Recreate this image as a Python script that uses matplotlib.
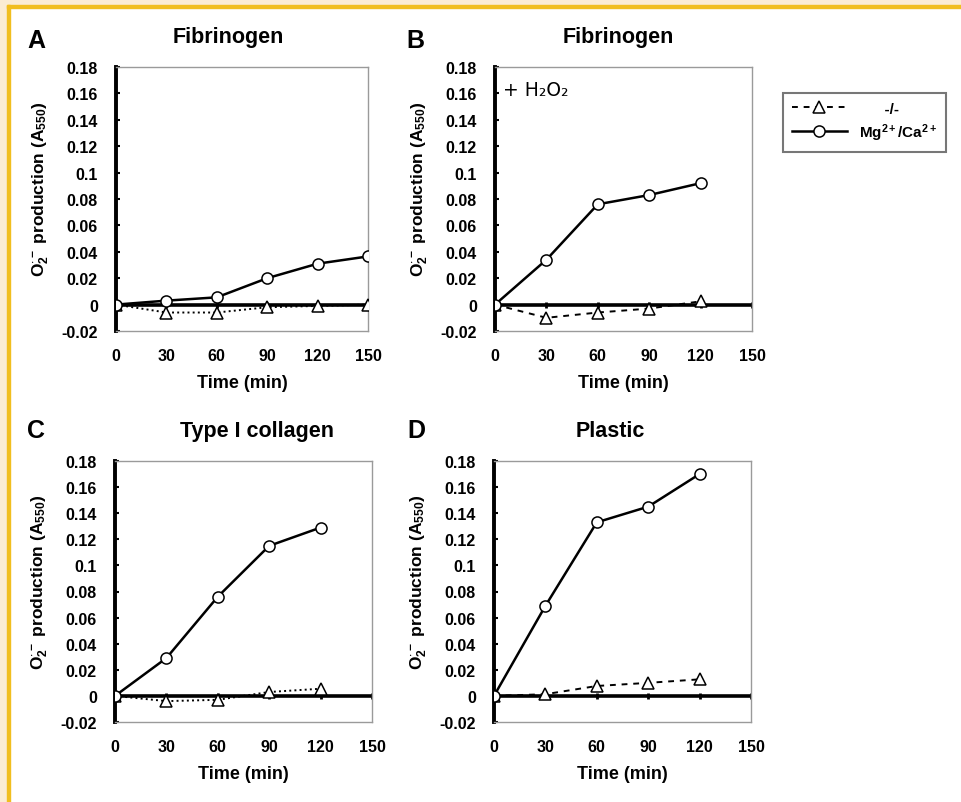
import numpy as np
import matplotlib
matplotlib.use("Agg")
import matplotlib.pyplot as plt
from matplotlib.lines import Line2D
from matplotlib.patches import Rectangle

plt.rcParams['font.family'] = ['Liberation Sans', 'DejaVu Sans']
plt.rcParams['font.weight'] = 'bold'
plt.rcParams['mathtext.fontset'] = 'custom'
plt.rcParams['mathtext.rm'] = 'Liberation Sans:bold'
plt.rcParams['mathtext.bf'] = 'Liberation Sans:bold'
plt.rcParams['mathtext.it'] = 'Liberation Sans:bold'
plt.rcParams['mathtext.default'] = 'rm'

# data
time_min = [0, 30, 60, 90, 120, 150]
time_short = [0, 30, 60, 90, 120]

panel_letters = ["A", "B", "C", "D"]
panel_titles = ["Fibrinogen", "Fibrinogen", "Type I collagen", "Plastic"]

a_mg = [0, 0.003, 0.0055, 0.020, 0.031, 0.0365]
a_ko = [0, -0.006, -0.006, -0.002, -0.001, 0.0]
b_mg = [0, 0.034, 0.076, 0.083, 0.092]
b_ko = [0, -0.010, -0.006, -0.003, 0.0025]
c_mg = [0, 0.029, 0.076, 0.115, 0.129]
c_ko = [0, -0.004, -0.003, 0.003, 0.0055]
d_mg = [0, 0.069, 0.133, 0.145, 0.170]
d_ko = [0, 0.0013, 0.0076, 0.010, 0.0127]

xticks = [0, 30, 60, 90, 120, 150]
yticks = [-0.02, 0, 0.02, 0.04, 0.06, 0.08, 0.1, 0.12, 0.14, 0.16, 0.18]
ytick_labels = ["-0.02", "0", "0.02", "0.04", "0.06", "0.08", "0.1",
                "0.12", "0.14", "0.16", "0.18"]

W, H = 962, 803
fig = plt.figure(figsize=(W / 100, H / 100), dpi=100)
fig.patch.set_facecolor("white")

# cream band + gold frame line
cream = "#FBECD3"
gold = "#F1BE1F"
fig.patches.append(Rectangle((0, 0), 7 / W, 1, transform=fig.transFigure, color=cream, zorder=0))
fig.patches.append(Rectangle((0, 1 - 6 / H), 1, 6 / H, transform=fig.transFigure, color=cream, zorder=0))
fig.patches.append(Rectangle((7 / W, 0), 3 / W, 1 - 6 / H, transform=fig.transFigure, color=gold, zorder=0))
fig.patches.append(Rectangle((7 / W, 1 - 9 / H), 1, 3 / H, transform=fig.transFigure, color=gold, zorder=0))

# axes boxes in pixels: left, right, top, bottom
boxes = [(116, 368, 68, 332), (495, 752, 68, 332),
         (115, 372, 462, 723), (494, 751, 462, 723)]
series = [(time_min, a_mg, a_ko, ':'), (time_short, b_mg, b_ko, (0, (3, 3))),
          (time_short, c_mg, c_ko, ':'), (time_short, d_mg, d_ko, (0, (3, 3)))]
title_x = [0.444, 0.479, 0.553, 0.451]
letter_pos = [(27, 48), (406, 48), (27, 438), (407, 438)]

for i, (l, r, t, b) in enumerate(boxes):
    w, h = r - l, b - t
    ax = fig.add_axes([l / W, 1 - b / H, w / W, h / H])
    x, mg, ko, ls = series[i]

    ax.axhline(0, color="black", lw=2.6, zorder=2)
    ax.plot(xticks[1:], np.zeros(len(xticks) - 1), ls="none", marker="|",
            color="black", ms=4, mew=2, zorder=2)
    ax.plot(x, ko, ls=ls, color="black", lw=1.4, marker="^", ms=8,
            mfc="white", mec="black", mew=1.1, zorder=3)
    ax.plot(x, mg, ls="-", color="black", lw=1.8, marker="o", ms=8,
            mfc="white", mec="black", mew=1.1, zorder=4)

    ax.set_xlim(0, 150)
    ax.set_ylim(-0.02, 0.18)
    ax.set_xticks(xticks)
    ax.set_yticks(yticks)
    ax.set_yticklabels(ytick_labels)
    ax.tick_params(axis="x", length=0, pad=12, labelsize=11.5)
    ax.tick_params(axis="y", direction="in", length=3, width=1.5, pad=13, labelsize=11.5)
    for s in ["top", "right", "bottom"]:
        ax.spines[s].set_color("#9a9a9a")
        ax.spines[s].set_linewidth(1.0)
    ax.spines["left"].set_color("black")
    ax.spines["left"].set_linewidth(2.8)

    ax.set_xlabel("Time (min)", fontsize=13, fontweight="bold")
    ax.xaxis.set_label_coords(0.5, -43 / h)
    ax.set_ylabel(r"O$_2^{\cdot-}$ production (A$_{550}$)", fontsize=12.5, fontweight="bold")
    ax.yaxis.set_label_coords(-65 / w, 0.54)

    ax.text(title_x[i], 1 + 25 / h, panel_titles[i], transform=ax.transAxes,
            ha="center", va="baseline", fontsize=15.5, fontweight="bold")
    lx, ly = letter_pos[i]
    fig.text(lx / W, 1 - ly / H, panel_letters[i], ha="left", va="baseline",
             fontsize=18, fontweight="bold")

    if i == 1:
        ax.text(0.03, 0.915, "+ H\u2082O\u2082", transform=ax.transAxes, ha="left",
                va="center", fontsize=13.5, fontweight="normal",
                family=["DejaVu Sans"])

handles = [
    Line2D([], [], ls=(0, (3, 3)), color="black", lw=1.4, marker="^", ms=8,
           mfc="white", mec="black", mew=1.1),
    Line2D([], [], ls="-", color="black", lw=1.8, marker="o", ms=8,
           mfc="white", mec="black", mew=1.1),
]
leg = fig.legend(handles, ["      -/-", r"Mg$^{2+}$/Ca$^{2+}$"], loc="upper left",
                 bbox_to_anchor=(775 / W, 1 - 86 / H), fontsize=11,
                 frameon=True, fancybox=False, handlelength=3.6,
                 borderpad=0.6, labelspacing=0.35, handletextpad=0.8)
leg.get_frame().set_edgecolor("#555555")
leg.get_frame().set_linewidth(1.5)

fig.savefig("out.png", dpi=100)
